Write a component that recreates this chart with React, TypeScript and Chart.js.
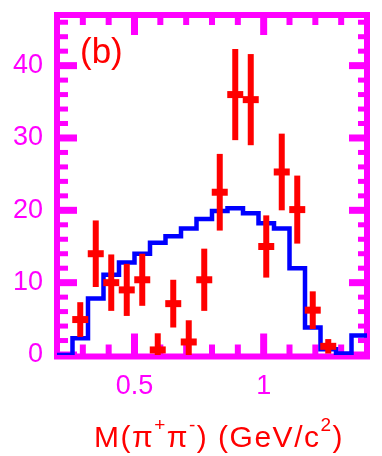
import React, { useEffect, useRef } from "react";
import { Chart, registerables } from "chart.js";

Chart.register(...registerables);

// Histogram (blue, MC) — bin edges and contents
const histEdges = [0.2, 0.26, 0.32, 0.38, 0.44, 0.5, 0.56, 0.62, 0.68, 0.74, 0.8, 0.86, 0.92, 0.98, 1.04, 1.1, 1.16, 1.22, 1.28, 1.34, 1.4];
const histValues = [0, 2.3, 7.8, 11.1, 12.8, 14.0, 15.5, 16.4, 17.5, 18.8, 19.9, 20.3, 19.6, 18.2, 17.5, 12.0, 3.8, 0.8, 0.2, 2.7];

// Data points (red) with symmetric errors
const pointX = [0.29, 0.35, 0.41, 0.47, 0.53, 0.59, 0.65, 0.71, 0.77, 0.83, 0.89, 0.95, 1.01, 1.07, 1.13, 1.19, 1.25];
const pointY = [4.9, 14.0, 10.0, 9.0, 10.4, 0.7, 7.1, 1.8, 10.4, 22.5, 36.0, 35.3, 15.0, 25.3, 20.1, 6.2, 1.2];
const pointErr = [2.4, 4.6, 3.9, 3.6, 3.6, 2.3, 3.3, 3.0, 4.3, 5.3, 6.3, 6.3, 4.3, 5.3, 4.7, 2.6, 1.0];

// Axes
const xMin = 0.2;
const xMax = 1.4;
const yMin = 0;
const yMax = 47;
const xMajorTicks = [0.5, 1];
const xTickLabels = ["0.5", "1"];
const xMinorTicks = [0.3, 0.4, 0.6, 0.7, 0.8, 0.9, 1.1, 1.2, 1.3];
const yMajorTicks = [0, 10, 20, 30, 40];
const yTickLabels = ["0", "10", "20", "30", "40"];
const yMinorTicks = [2, 4, 6, 8, 12, 14, 16, 18, 22, 24, 26, 28, 32, 34, 36, 38, 42, 44, 46];

const panelLabel = "(b)";
const xTitleParts = [
  { text: "M(\u03c0", sup: false },
  { text: "+", sup: true },
  { text: "\u03c0", sup: false },
  { text: "-", sup: true },
  { text: ") (GeV/c", sup: false },
  { text: "2", sup: true },
  { text: ")", sup: false },
];

const MAGENTA = "#ff00ff";
const RED = "#ff0000";
const BLUE = "#0000ff";
const FAMILY = "'Liberation Sans', Arial, Helvetica, sans-serif";

const framePlugin = {
  id: "frameTicks",
  beforeDatasetsDraw(chart: any) {
    const { ctx, chartArea, scales } = chart;
    const { left, top, right, bottom } = chartArea;
    const x = scales.x;
    const y = scales.y;
    const fb = bottom + 1.5;
    ctx.save();
    ctx.strokeStyle = MAGENTA;
    ctx.lineCap = "butt";
    ctx.lineJoin = "miter";
    ctx.lineWidth = 6;
    ctx.strokeRect(left, top, right - left, fb - top);
    const seg = (x1: number, y1: number, x2: number, y2: number, w: number) => {
      ctx.lineWidth = w;
      ctx.beginPath();
      ctx.moveTo(x1, y1);
      ctx.lineTo(x2, y2);
      ctx.stroke();
    };
    for (const v of xMajorTicks) {
      const px = x.getPixelForValue(v);
      seg(px, fb, px, fb - 23, 7);
      seg(px, top, px, top + 20, 7);
    }
    for (const v of xMinorTicks) {
      const px = x.getPixelForValue(v);
      seg(px, fb, px, fb - 12, 6);
      seg(px, top, px, top + 10, 6);
    }
    for (const v of yMajorTicks) {
      const py = y.getPixelForValue(v);
      seg(left, py, left + 20, py, 7);
      seg(right, py, right - 18, py, 7);
    }
    for (const v of yMinorTicks) {
      const py = y.getPixelForValue(v);
      seg(left, py, left + 11, py, 5);
      seg(right, py, right - 9, py, 5);
    }
    ctx.restore();
  },
  afterDatasetsDraw(chart: any) {
    const { ctx, chartArea, scales } = chart;
    const x = scales.x;
    const y = scales.y;
    ctx.save();
    ctx.beginPath();
    ctx.rect(chartArea.left, chartArea.top, chartArea.right - chartArea.left, chartArea.bottom - chartArea.top);
    ctx.clip();
    ctx.strokeStyle = RED;
    ctx.lineWidth = 6;
    ctx.lineCap = "butt";
    for (let i = 0; i < pointX.length; i++) {
      const px = x.getPixelForValue(pointX[i]);
      const p1 = y.getPixelForValue(pointY[i] + pointErr[i]);
      const p2 = y.getPixelForValue(pointY[i] - pointErr[i]);
      ctx.beginPath();
      ctx.moveTo(px, p1);
      ctx.lineTo(px, p2);
      ctx.stroke();
    }
    ctx.restore();
  },
  afterDraw(chart: any) {
    const { ctx, chartArea } = chart;
    ctx.save();
    ctx.fillStyle = RED;
    ctx.textBaseline = "alphabetic";
    ctx.textAlign = "left";
    ctx.font = `35px ${FAMILY}`;
    ctx.fillText(panelLabel, 80, 63);

    const mainFont = `30px ${FAMILY}`;
    const supFont = `19px ${FAMILY}`;
    try {
      (ctx as any).letterSpacing = "1.5px";
    } catch (e) {}
    let total = 0;
    for (const p of xTitleParts) {
      ctx.font = p.sup ? supFont : mainFont;
      total += ctx.measureText(p.text).width;
    }
    let cx = (chartArea.left + chartArea.right) / 2 - total / 2 + 7;
    const base = 447;
    for (const p of xTitleParts) {
      ctx.font = p.sup ? supFont : mainFont;
      ctx.fillText(p.text, cx, p.sup ? base - 16 : base);
      cx += ctx.measureText(p.text).width;
    }
    ctx.restore();
  },
};

export default function App() {
  const ref = useRef<HTMLCanvasElement | null>(null);
  useEffect(() => {
    if (!ref.current) return;
    const histData = histValues.map((v, i) => ({ x: histEdges[i], y: v }));
    histData.push({ x: histEdges[histEdges.length - 1], y: histValues[histValues.length - 1] });
    const pts = pointX.map((v, i) => ({ x: v, y: pointY[i] }));
    const chart = new Chart(ref.current, {
      type: "scatter",
      data: {
        datasets: [
          {
            type: "scatter",
            label: "data",
            data: pts,
            order: 0,
            pointStyle: "line",
            pointRadius: 8,
            pointBorderWidth: 7,
            borderColor: RED,
            backgroundColor: RED,
            showLine: false,
          } as any,
          {
            type: "line",
            label: "MC",
            data: histData,
            order: 1,
            stepped: "before",
            borderColor: BLUE,
            borderWidth: 4.5,
            pointRadius: 0,
            fill: false,
            tension: 0,
            borderJoinStyle: "miter",
          } as any,
        ],
      },
      options: {
        responsive: false,
        animation: false,
        events: [],
        layout: { padding: { left: 0, top: 13, right: 2, bottom: 0 } },
        plugins: { legend: { display: false }, tooltip: { enabled: false }, title: { display: false } },
        scales: {
          x: {
            type: "linear",
            position: "bottom",
            min: xMin,
            max: xMax,
            grid: { display: false, drawTicks: false },
            border: { display: false },
            afterBuildTicks: (s: any) => {
              s.ticks = xMajorTicks.map((v) => ({ value: v }));
            },
            afterFit: (s: any) => {
              s.height = 101;
              s.paddingLeft = 0;
              s.paddingRight = 0;
              s.paddingTop = 0;
              s.paddingBottom = 0;
            },
            ticks: {
              autoSkip: false,
              maxRotation: 0,
              padding: 15,
              color: MAGENTA,
              font: { family: FAMILY, size: 27 },
              callback: (v: any) => {
                const i = xMajorTicks.indexOf(Number(v));
                return i >= 0 ? xTickLabels[i] : "";
              },
            },
          },
          y: {
            type: "linear",
            position: "left",
            min: yMin,
            max: yMax,
            grid: { display: false, drawTicks: false },
            border: { display: false },
            afterBuildTicks: (s: any) => {
              s.ticks = yMajorTicks.map((v) => ({ value: v }));
            },
            afterFit: (s: any) => {
              s.width = 57;
              s.paddingLeft = 0;
              s.paddingRight = 0;
              s.paddingTop = 0;
              s.paddingBottom = 0;
            },
            ticks: {
              autoSkip: false,
              padding: 14,
              color: MAGENTA,
              font: { family: FAMILY, size: 27 },
              callback: (v: any) => {
                const i = yMajorTicks.indexOf(Number(v));
                return i >= 0 ? yTickLabels[i] : "";
              },
            },
          },
        },
      },
      plugins: [framePlugin],
    } as any);
    return () => chart.destroy();
  }, []);
  return (
    <div style={{ position: "fixed", left: 0, top: 0, width: 382, height: 456, background: "#fff" }}>
      <canvas ref={ref} width={382} height={456} style={{ display: "block" }} />
    </div>
  );
}
